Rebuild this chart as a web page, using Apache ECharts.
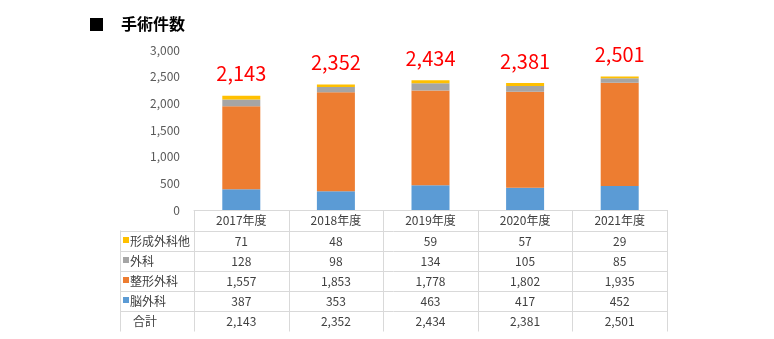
<!DOCTYPE html>
<html>
<head>
<meta charset="utf-8">
<script src="https://cdn.jsdelivr.net/npm/echarts@6/dist/echarts.min.js"></script>
<style>
  html, body { margin: 0; padding: 0; background: #fff; }
  #chart { width: 774px; height: 339px; }
</style>
</head>
<body>
<div id="chart"></div>
<script>
// 手術件数 — fiscal-year surgery counts by department
const years = ['2017年度', '2018年度', '2019年度', '2020年度', '2021年度'];
const keisei = [71, 48, 59, 57, 29];            // 形成外科他
const geka = [128, 98, 134, 105, 85];           // 外科
const seikei = [1557, 1853, 1778, 1802, 1935];  // 整形外科
const nou = [387, 353, 463, 417, 452];          // 脳外科
const yTicks = [0, 500, 1000, 1500, 2000, 2500, 3000];

const FONT = '"Noto Sans CJK JP", "Noto Sans", sans-serif';
const fmt = v => v.toLocaleString('en-US');
const totals = years.map((_, i) => nou[i] + seikei[i] + geka[i] + keisei[i]);

// table rows, top to bottom (legend marker colour, label, values)
const rows = [
  { name: '形成外科他', color: '#FFC000', values: keisei },
  { name: '外科', color: '#A5A5A5', values: geka },
  { name: '整形外科', color: '#ED7D31', values: seikei },
  { name: '脳外科', color: '#5B9BD5', values: nou },
  { name: '合計', color: null, values: totals }
];

const chart = echarts.init(document.getElementById('chart'));

const GRID = { left: 194, right: 107, top: 50, bottom: 129 };

function barSeries(name, data, color, withTotal) {
  const s = {
    name, type: 'bar', stack: 'all', data, barWidth: 38,
    itemStyle: { color },
    emphasis: { disabled: true }
  };
  if (withTotal) {
    s.label = {
      show: true, position: 'top', distance: 12,
      formatter: p => fmt(totals[p.dataIndex]),
      color: '#FF0000', fontSize: 20, fontFamily: FONT
    };
  }
  return s;
}

chart.setOption({
  animation: false,
  grid: GRID,
  xAxis: {
    type: 'category', data: years,
    axisLine: { show: true, lineStyle: { color: '#D9D9D9' } },
    axisTick: { show: false },
    axisLabel: { margin: 4, fontSize: 12, color: '#404040', fontFamily: FONT }
  },
  yAxis: {
    type: 'value', min: yTicks[0], max: yTicks[yTicks.length - 1], interval: 500,
    axisLine: { show: false }, axisTick: { show: false },
    splitLine: { show: false },
    axisLabel: { margin: 14, fontSize: 12, color: '#595959', fontFamily: FONT, formatter: v => fmt(v) }
  },
  series: [
    barSeries('脳外科', nou, '#5B9BD5'),
    barSeries('整形外科', seikei, '#ED7D31'),
    barSeries('外科', geka, '#A5A5A5'),
    barSeries('形成外科他', keisei, '#FFC000', true)
  ]
});

// data table under the plot, aligned to the category axis
function buildTable() {
  const centers = years.map(y => chart.convertToPixel({ xAxisIndex: 0 }, y));
  const colW = centers.length > 1 ? centers[1] - centers[0] : 94;
  const left = centers[0] - colW / 2;
  const right = centers[centers.length - 1] + colW / 2;
  const top = chart.convertToPixel({ yAxisIndex: 0 }, 0);
  const headerBottom = top + 20.5;
  const rowH = 20;
  const labelLeft = 120;
  const tableBottom = headerBottom + rowH * rows.length + 1;
  const lineStyle = { stroke: '#D9D9D9', lineWidth: 1 };
  const els = [];

  // vertical rules
  const vx = [left];
  centers.forEach(c => vx.push(c + colW / 2));
  vx.forEach(x => els.push({ type: 'line', silent: true,
    shape: { x1: Math.round(x) + 0.5, y1: top, x2: Math.round(x) + 0.5, y2: tableBottom }, style: lineStyle }));
  els.push({ type: 'line', silent: true,
    shape: { x1: labelLeft + 0.5, y1: headerBottom, x2: labelLeft + 0.5, y2: tableBottom }, style: lineStyle });

  // horizontal rules
  for (let r = 0; r < rows.length; r++) {
    const y = Math.round(headerBottom + r * rowH) + 0.5;
    els.push({ type: 'line', silent: true,
      shape: { x1: labelLeft, y1: y, x2: right, y2: y }, style: lineStyle });
  }

  rows.forEach((row, r) => {
    const cy = headerBottom + r * rowH + rowH / 2 + 0.5;
    if (row.color) {
      els.push({ type: 'rect', silent: true,
        shape: { x: 123, y: cy - 4, width: 6, height: 6 }, style: { fill: row.color } });
    }
    els.push({ type: 'text', silent: true, x: row.color ? 130 : 133, y: cy,
      style: { text: row.name, fill: '#404040', fontSize: 12, fontFamily: FONT,
        textAlign: 'left', textVerticalAlign: 'middle' } });
    row.values.forEach((v, i) => {
      els.push({ type: 'text', silent: true, x: centers[i], y: cy,
        style: { text: fmt(v), fill: '#404040', fontSize: 12, fontFamily: FONT,
          textAlign: 'center', textVerticalAlign: 'middle' } });
    });
  });

  // heading
  els.push({ type: 'rect', silent: true, shape: { x: 90, y: 18, width: 13, height: 13 }, style: { fill: '#000' } });
  els.push({ type: 'text', silent: true, x: 121, y: 24,
    style: { text: '手術件数', fill: '#000', fontSize: 16, fontWeight: 'bold', fontFamily: FONT,
      textAlign: 'left', textVerticalAlign: 'middle' } });

  chart.setOption({ graphic: { elements: els } });
}
buildTable();
</script>
</body>
</html>
